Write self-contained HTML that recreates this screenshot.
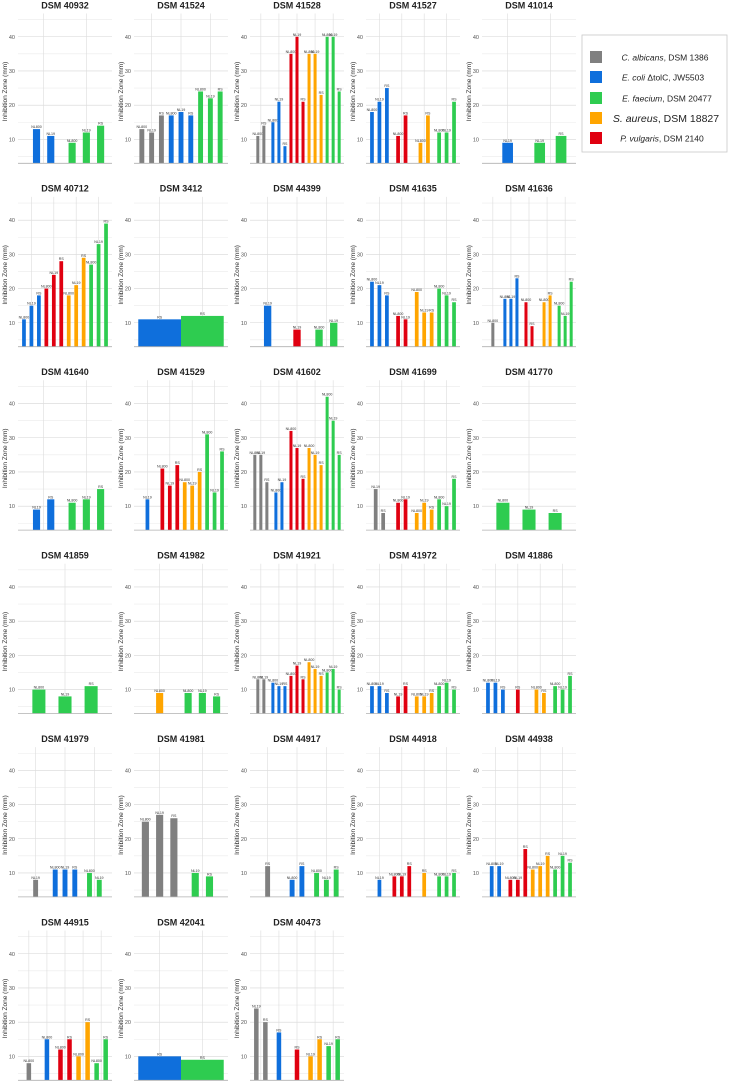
<!DOCTYPE html>
<html><head><meta charset="utf-8">
<style>
html,body{margin:0;padding:0;background:#fff;}
svg{display:block;font-family:"Liberation Sans",sans-serif;}
</style></head>
<body>
<svg id="chart" width="729" height="1082" viewBox="0 0 729 1082" xmlns="http://www.w3.org/2000/svg">
<g id="panels"></g>
<g id="legend">
  <rect x="582" y="35" width="145" height="117" fill="#fff" stroke="#c8c8c8" stroke-width="0.8"/>
  <g>
    <rect x="590" y="51" width="12" height="12" fill="#808080"/>
    <text x="665" y="60.5" font-size="8.5" text-anchor="middle" fill="#222"><tspan font-style="italic">C. albicans</tspan>, DSM 1386</text>
  </g>
  <g>
    <rect x="590" y="71" width="12" height="12" fill="#0f6fdc"/>
    <text x="663" y="80.5" font-size="8.5" text-anchor="middle" fill="#222"><tspan font-style="italic">E. coli</tspan> ΔtolC, JW5503</text>
  </g>
  <g>
    <rect x="590" y="92" width="12" height="12" fill="#2ecc50"/>
    <text x="667" y="101.5" font-size="8.5" text-anchor="middle" fill="#222"><tspan font-style="italic">E. faecium</tspan>, DSM 20477</text>
  </g>
  <g>
    <rect x="590" y="112" width="12" height="12" fill="#ffa500"/>
    <text x="666" y="122" font-size="10.5" text-anchor="middle" fill="#222"><tspan font-style="italic">S. aureus</tspan>, DSM 18827</text>
  </g>
  <g>
    <rect x="590" y="132" width="12" height="12" fill="#e00010"/>
    <text x="662" y="141.5" font-size="8.5" text-anchor="middle" fill="#222"><tspan font-style="italic">P. vulgaris</tspan>, DSM 2140</text>
  </g>
</g>
</svg>
<script>
const panelTitles = ["DSM 40932","DSM 41524","DSM 41528","DSM 41527","DSM 41014",
"DSM 40712","DSM 3412","DSM 44399","DSM 41635","DSM 41636",
"DSM 41640","DSM 41529","DSM 41602","DSM 41699","DSM 41770",
"DSM 41859","DSM 41982","DSM 41921","DSM 41972","DSM 41886",
"DSM 41979","DSM 41981","DSM 44917","DSM 44918","DSM 44938",
"DSM 44915","DSM 42041","DSM 40473"];
const organisms = ["C. albicans","E. coli","P. vulgaris","S. aureus","E. faecium"];
const strains = ["NL800","NL19","RS"];
const yTicks = [10,20,30,40];
const _ = null;
// values per panel: [NL800, NL19, RS]; null = not present
const grayVals = [_,[13,12,17],[11,_,14],_,_, _,_,_,_,[10,_,_], _,_,[25,25,17],[_,15,8],_, _,_,[13,13,_],_,_, [_,8,_],[25,27,26],[_,_,12],_,_, [8,_,_],_,[_,24,20]];
const blueVals = [[13,11,_],[17,18,17],[15,21,8],[18,21,25],[_,9,_], [11,15,18],[_,_,11],[_,15,_],[22,21,18],[17,17,23], [_,9,12],[_,12,_],[14,17,_],_,_, _,_,[12,11,11],[11,11,9],[12,12,10], [11,11,11],_,[8,_,12],[_,8,_],[12,12,_], [15,_,_],[_,_,10],[_,_,17]];
const redVals = [_,_,[35,40,21],[11,_,17],_, [20,24,28],_,[_,8,_],[12,11,_],[16,_,9], _,[21,16,22],[32,27,18],[11,12,_],_, _,_,[14,17,13],[_,8,11],[_,_,10], _,_,_,[9,9,12],[8,8,17], [12,_,15],_,[_,_,12]];
const orangeVals = [_,_,[35,35,23],[9,_,17],_, [18,21,29],_,_,[19,13,13],[16,_,18], _,[17,16,20],[27,25,22],[8,11,9],_, _,[9,_,_],[18,16,14],[8,8,9],[10,_,9], _,_,_,[_,_,10],[11,12,15], [10,_,20],_,[_,10,15]];
const greenVals = [[9,12,14],[24,22,24],[40,40,24],[12,12,21],[_,9,11], [27,33,39],[_,_,12],[8,10,_],[20,18,16],[15,12,22], [11,12,15],[31,14,26],[42,35,25],[12,10,18],[11,9,8], [10,8,11],[9,9,8],[15,16,10],[11,12,10],[11,10,14], [10,8,_],[_,10,9],[10,8,11],[9,9,10],[11,15,13], [8,_,15],[_,_,9],[_,13,15]];

const seriesVals = [grayVals, blueVals, redVals, orangeVals, greenVals];
const colors = ["#808080","#0f6fdc","#e00010","#ffa500","#2ecc50"];
const NS = "http://www.w3.org/2000/svg";
const root = document.getElementById("panels");
function mk(tag, attrs, parent){ const e=document.createElementNS(NS,tag); for(const k in attrs) e.setAttribute(k,attrs[k]); parent.appendChild(e); return e; }
function slug(s){ return s.toLowerCase().replace(/[^a-z0-9]+/g,'-').replace(/-+$/,''); }

panelTitles.forEach((title, p) => {
  const col = p % 5, row = Math.floor(p / 5);
  const L = 18 + 116*col, R = L + 94;
  const baseY = 163.3 + 183.4*row;
  const yScale = v => baseY - (v - 3)*3.42;
  const g = mk("g", {}, root);
  
  
  // title
  const t = mk("text", {x:(L+R)/2, y:baseY-155, "font-size":"9", "font-weight":"bold", "text-anchor":"middle", fill:"#222"}, g);
  t.textContent = title;
  
  
  // horizontal grid
  for (let v = 5; v <= 45; v += 5) {
    const gl = mk("line", {x1:L, x2:R, y1:yScale(v), y2:yScale(v), stroke: v%10===0 ? "#d6d6d6" : "#ebebeb", "stroke-width":"0.6"}, g);
    
    
  }
  yTicks.forEach(v => {
    const tl = mk("text", {x:L-3, y:yScale(v)+2, "font-size":"5.5", "text-anchor":"end", fill:"#555"}, g);
    tl.textContent = v;
    
    
  });
  const yt = mk("text", {x:0, y:0, "font-size":"6.5", "text-anchor":"middle", fill:"#333", transform:`translate(${L-11},${(yScale(45)+baseY)/2}) rotate(-90)`}, g);
  yt.textContent = "Inhibition Zone (mm)";
  
  
  // groups present
  const groups = [];
  seriesVals.forEach((arr, o) => { const v = arr[p]; if (v && v.some(x => x !== null)) groups.push(o); });
  const n = groups.length;
  let maxN = 1;
  groups.forEach(o => { maxN = Math.max(maxN, seriesVals[o][p].filter(x => x !== null).length); });
  const unit = (R - L) / (n + 0.2);
  const spacing = 1 / maxN;
  const bw = maxN === 1 ? 1.0 : 0.5 / maxN;
  groups.forEach((o, gi) => {
    const cx = L + (gi + 0.6) * unit;
    const vg = mk("line", {x1:cx, x2:cx, y1:yScale(46.8), y2:baseY, stroke:"#dcdcdc", "stroke-width":"0.6"}, g);
    
    
    const vals = seriesVals[o][p];
    const present = [];
    vals.forEach((v, si) => { if (v !== null) present.push(si); });
    const k = present.length;
    present.forEach((si, j) => {
      const v = vals[si];
      const bx = cx + (j - (k - 1) / 2) * spacing * unit;
      const w = bw * unit;
      const rect = mk("rect", {x:bx - w/2, y:yScale(v), width:w, height:baseY - yScale(v), fill:colors[o]}, g);
      
      
      const lb = mk("text", {x:bx, y:yScale(v) - 1, "font-size":"3.6", "text-anchor":"middle", fill:"#333"}, g);
      lb.textContent = strains[si];
      
      
    });
  });
  const base = mk("line", {x1:L, x2:R, y1:baseY, y2:baseY, stroke:"#b0b0b0", "stroke-width":"0.8"}, g);
  
  
});
</script>
</body></html>
